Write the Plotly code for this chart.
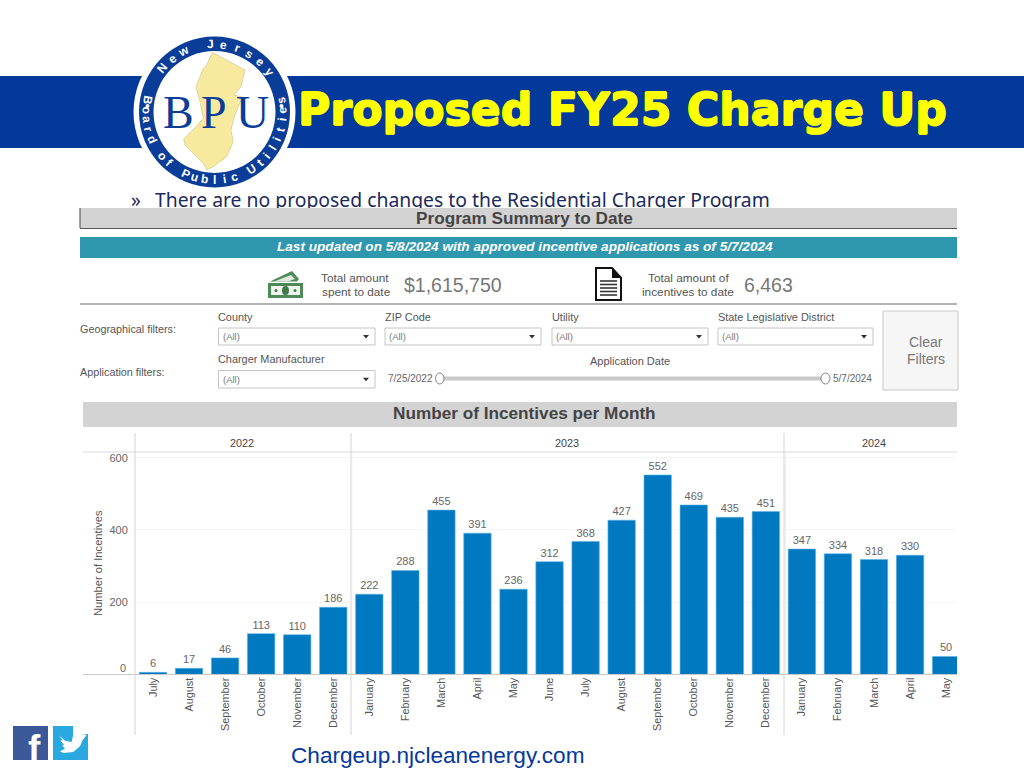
import math
import plotly.graph_objects as go

months = ["July", "August", "September", "October", "November", "December",
          "January", "February", "March", "April", "May", "June", "July", "August",
          "September", "October", "November", "December",
          "January", "February", "March", "April", "May"]
incentives = [6, 17, 46, 113, 110, 186, 222, 288, 455, 391, 236, 312, 368, 427,
              552, 469, 435, 451, 347, 334, 318, 330, 50]
y_ticks = [200, 400, 600]
years = ["2022", "2023", "2024"]
title_text = "Proposed FY25 Charge Up"
bullet_text = "There are no proposed changes to the Residential Charger Program"
footer_text = "Chargeup.njcleanenergy.com"

W, H = 1024, 768
SANS = "Liberation Sans, Arial, sans-serif"
BLUE = "#03399b"
shapes, notes = [], []


def px(x):
    return x / W


def py(y):
    return 1 - y / H


def rect(x0, y0, x1, y1, fill=None, line=None, lw=1, kind="rect"):
    shapes.append(dict(type=kind, xref="paper", yref="paper", layer="above",
                       x0=px(x0), x1=px(x1), y0=py(y0), y1=py(y1),
                       fillcolor=fill or "rgba(0,0,0,0)",
                       line=dict(color=line or "rgba(0,0,0,0)", width=lw if line else 0)))


def hline(x0, x1, y, color, lw=1):
    shapes.append(dict(type="line", xref="paper", yref="paper", layer="above",
                       x0=px(x0), x1=px(x1), y0=py(y), y1=py(y), line=dict(color=color, width=lw)))


def vline(x, y0, y1, color, lw=1):
    shapes.append(dict(type="line", xref="paper", yref="paper", layer="above",
                       x0=px(x), x1=px(x), y0=py(y0), y1=py(y1), line=dict(color=color, width=lw)))


def poly(points, fill, line=None, lw=1):
    path = "M " + " L ".join(f"{px(x):.5f},{py(y):.5f}" for x, y in points) + " Z"
    shapes.append(dict(type="path", xref="paper", yref="paper", layer="above", path=path,
                       fillcolor=fill, line=dict(color=line or "rgba(0,0,0,0)", width=lw if line else 0)))


def text(x, y, s, size=10, color="#555555", anchor="left", font=SANS, angle=0, shadow=None):
    f = dict(size=size, color=color, family=font)
    if shadow:
        f["shadow"] = shadow
    notes.append(dict(xref="paper", yref="paper", x=px(x), y=py(y), text=s, showarrow=False,
                      xanchor=anchor, yanchor="middle", textangle=angle,
                      font=f, borderpad=0, borderwidth=0))


# Slide banner
rect(0, 76, 1024, 148, fill=BLUE)

# Logo
cx, cy = 214.5, 112
rect(cx - 81, cy - 81, cx + 81, cy + 81, fill="white", kind="circle")
rect(cx - 75.5, cy - 75.5, cx + 75.5, cy + 75.5, fill="#0a3d97", kind="circle")
rect(cx - 61, cy - 61, cx + 61, cy + 61, fill="white", kind="circle")
nj = [(232, 52), (330, 105), (318, 155), (297, 180), (322, 186), (298, 245), (288, 285), (295, 320),
      (275, 365), (235, 395), (215, 405), (205, 385), (150, 330), (146, 312), (180, 278), (205, 250),
      (195, 200), (183, 155), (205, 100), (215, 90)]
poly([(x / 3 + 135, y / 3 + 35) for x, y in nj], "#f7ea9f", "#c9c08a", 0.6)
for ch, lx in zip("BPU", (178, 214, 252)):
    text(lx, 112, ch, 46, "#0a3d97", "center", "Liberation Serif, serif")
top = "New Jersey"
for i, ch in enumerate(top):
    a = math.radians(-50 + i * 104 / (len(top) - 1))
    text(cx + 68 * math.sin(a), cy - 68 * math.cos(a), "<b>" + ch + "</b>", 12, "white", "center",
         angle=math.degrees(a))
bottom = "Board of Public Utilities"
for i, ch in enumerate(bottom):
    a = math.radians(100 - i * 200 / (len(bottom) - 1))
    text(cx - 68 * math.sin(a), cy + 68 * math.cos(a), "<b>" + ch + "</b>", 12, "white", "center",
         angle=math.degrees(a))
for dx in (-67, 67):
    rect(cx + dx - 2, 104, cx + dx + 2, 108, fill="white", kind="circle")

text(298, 109, "<b>" + title_text + "</b>", 44.2, "#ffff00", font="DejaVu Sans, sans-serif",
     shadow="0.8px 0 0 #ffff00, -0.8px 0 0 #ffff00, 0 0.6px 0 #ffff00, 0 -0.6px 0 #ffff00")

# Summary header: drawn above the bullet so it cuts the bullet line, as in the slide
rect(80, 208, 957, 228, fill="#d2d2d2")
hline(80, 957, 228.5, "#555555", 1)
vline(80, 208, 228, "#444444", 1)
text(524, 218, "<b>Program Summary to Date</b>", 17.2, "#444444", "center")
rect(80, 237, 957, 258, fill="#2f98ae")
text(525, 246, "<b><i>Last updated on 5/8/2024 with approved incentive applications as of 5/7/2024</i></b>",
     13.6, "white", "center")

# KPI icons
rect(268, 283, 303, 298, fill="#4d8a57")
rect(271, 286, 300, 295, fill="#f2f5ee")
rect(282, 286, 289, 295, fill="#3f7a4a", kind="circle")
rect(274.5, 289, 277.5, 292, fill="#3f7a4a", kind="circle")
rect(293.5, 289, 296.5, 292, fill="#3f7a4a", kind="circle")
poly([(270, 281.5), (292, 271), (299, 279), (297, 281.5)], "#4d8a57")
poly([(274, 281.5), (291, 275), (295, 279), (288, 281.5)], "#dfe8dc")
poly([(596, 268), (612, 268), (621, 278), (621, 300), (596, 300)], "white", "#111111", 2)
poly([(612, 268), (621, 278), (612, 278)], "#111111")
for yy in (281, 284.5, 288, 291.5, 295):
    hline(600, 617, yy, "#333333", 1.6)

text(321, 278, "Total amount", 11.8)
text(322, 292, "spent to date", 11.8)
text(404, 285, "$1,615,750", 19.5, "#777777")
text(688, 278, "Total amount of", 11.8, anchor="center")
text(688, 292, "incentives to date", 11.8, anchor="center")
text(744, 285, "6,463", 19.5, "#777777")
hline(80, 957, 304, "#666666", 1.2)

# Filters
text(80, 329, "Geographical filters:", 10.8)
text(80, 372, "Application filters:", 10.8)
for label, x0, x1, y0, y1 in (("County", 218.5, 375, 328, 345), ("ZIP Code", 385, 541, 328, 345),
                              ("Utility", 552, 708, 328, 345),
                              ("State Legislative District", 718, 873, 328, 345),
                              ("Charger Manufacturer", 218.5, 375, 370.5, 388)):
    rect(x0, y0, x1, y1, fill="white", line="#c4c4c4", lw=1)
    text(x0 - 0.5, y0 - 11, label, 10.9)
    text(x0 + 4, (y0 + y1) / 2, "(All)", 9.5, "#777777")
    poly([(x1 - 12, (y0 + y1) / 2 - 1.5), (x1 - 6, (y0 + y1) / 2 - 1.5), (x1 - 9, (y0 + y1) / 2 + 2)], "#333333")
text(630, 361, "Application Date", 11, anchor="center")
text(388, 379, "7/25/2022", 10, "#666666")
text(833, 379, "5/7/2024", 10, "#666666")
rect(443, 376.5, 824, 380.5, fill="#c9c9c9")
rect(435.5, 373, 444, 384, fill="white", line="#666666", lw=0.8, kind="circle")
rect(821, 373, 830, 384, fill="white", line="#666666", lw=0.8, kind="circle")
rect(883, 311, 958, 390, fill="#f6f6f6", line="#c8c8c8", lw=1)
text(926, 342, "Clear", 14, "#777777", "center")
text(926, 359, "Filters", 14, "#777777", "center")

# Chart chrome
rect(83, 402, 957, 427, fill="#d3d3d3")
text(524, 413, "<b>Number of Incentives per Month</b>", 17.2, "#444444", "center")
for label, lx in zip(years, (242, 567, 874)):
    text(lx, 443, label, 10.8, "#444444", "center")
hline(83, 957, 452, "#d8d8d8", 1)
hline(83, 957, 674.5, "#c8c8c8", 1)
for vx in (135, 351, 784):
    vline(vx, 433, 735, "#d4d4d4", 1)
for vx in (351.5, 785):
    vline(vx, 452, 674, "#e8e8e8", 1.5)

# Social icons
rect(13, 726, 48, 760, fill="#3b5998")
text(34, 748, "<b>f</b>", 37, "white", "center")
rect(53, 734, 88, 760, fill="#2aa9e0")
rect(53, 726, 73, 734, fill="#2aa9e0")
bird = [(162, 52), (180, 68), (200, 72), (205, 48), (228, 48), (245, 50), (232, 68), (225, 85),
        (205, 102), (175, 105), (165, 100), (180, 92), (172, 82), (177, 80), (167, 68), (172, 66)]
poly([(x / 3 + 5, y / 3 + 718) for x, y in bird], "white")

text(291, 755.5, footer_text, 22.6, BLUE)

# Main chart
positions = list(range(len(incentives)))
left, right, bottom_px, top_px = 135, 957, 674.5, 452
step = 36.05
first_center = 153
notes.append(dict(xref="paper", yref="y", x=px(128), y=0, yshift=7, text="0", showarrow=False,
                  xanchor="right", yanchor="middle", font=dict(size=11, color="#666666", family=SANS)))

fig = go.Figure()
fig.add_trace(go.Bar(
    x=positions, y=incentives, width=0.76,
    marker=dict(color="#0079c1", line=dict(color="#5db2e3", width=0.6)),
    text=incentives, textposition="outside", cliponaxis=False,
    textfont=dict(size=11, color="#666666", family=SANS),
    hoverinfo="skip", showlegend=False))
# Bullet line lives in an overlay trace so that the grey header shape can cover its lower edge
fig.add_trace(go.Scatter(x=[131, 155], y=[202, 202], xaxis="x2", yaxis="y2", mode="text",
                         text=["»", bullet_text], textposition="middle right",
                         textfont=dict(size=19.35, color="#1b2a5c", family="Noto Sans, sans-serif"),
                         hoverinfo="skip", showlegend=False))

scale = (bottom_px - 475) / 552
fig.update_layout(
    width=W, height=H, autosize=False, margin=dict(l=0, r=0, t=0, b=0),
    paper_bgcolor="white", plot_bgcolor="rgba(0,0,0,0)",
    shapes=shapes, annotations=notes, bargap=0.24,
    xaxis=dict(domain=[px(left), px(right)],
               range=[(left - first_center) / step, (right - first_center) / step],
               tickmode="array", tickvals=positions, ticktext=months, tickangle=-90,
               tickfont=dict(size=10.9, color="#555555", family=SANS),
               ticks="", showgrid=False, zeroline=False, showline=False, automargin=False),
    yaxis=dict(domain=[py(bottom_px), py(top_px)],
               range=[0, (bottom_px - top_px) / scale],
               tickmode="array", tickvals=y_ticks, ticktext=[str(v) for v in y_ticks],
               tickfont=dict(size=11, color="#666666", family=SANS),
               ticks="outside", ticklen=4, tickcolor="rgba(0,0,0,0)",
               showgrid=True, gridcolor="#f5f5f5", zeroline=False, showline=False, automargin=False,
               title=dict(text="Number of Incentives", standoff=4,
                          font=dict(size=11.2, color="#555555", family=SANS))),
    xaxis2=dict(domain=[0, 1], range=[0, W], visible=False, anchor="y2"),
    yaxis2=dict(domain=[0, 1], range=[H, 0], visible=False, anchor="x2"),
)

fig.write_html("out.html", config={"displayModeBar": False},
               post_script="document.body.style.margin='0';")
